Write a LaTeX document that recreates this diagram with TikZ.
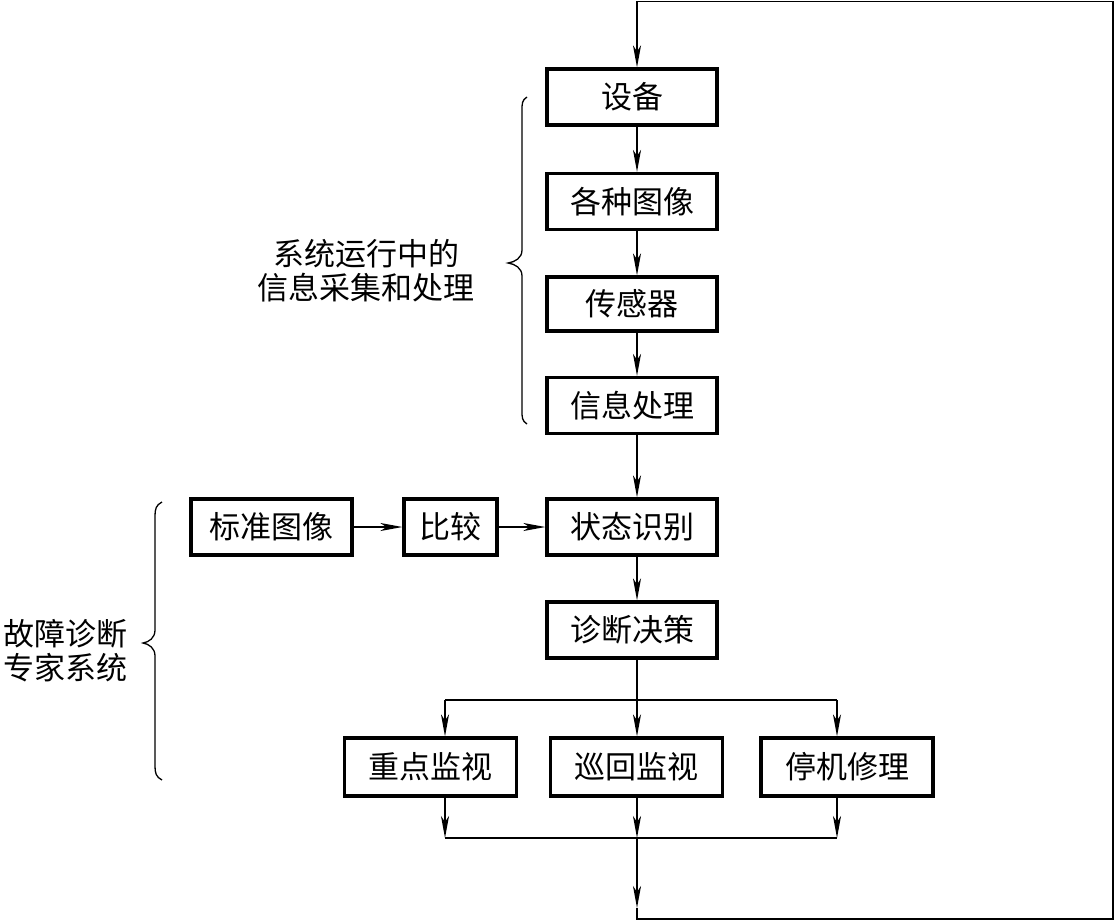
\documentclass[tikz,border=0pt]{standalone}
\usepackage{fontspec}
\setmainfont{Noto Sans CJK SC}
\usetikzlibrary{arrows.meta}
\begin{document}
\begin{tikzpicture}[x=1pt,y=-1pt,
  box/.style={draw, line width=3.2pt, minimum width=170pt, minimum height=56pt, inner sep=0pt, font=\fontsize{31}{31}\selectfont},
  conn/.style={line width=1.7pt},
  arr/.style={conn, -{Stealth[length=22pt,width=8pt,inset=6pt]}},
  lbl/.style={align=center, inner sep=0pt, font=\fontsize{31}{34}\selectfont},
  brace/.style={line width=1.3pt}]
\useasboundingbox (0,0) rectangle (1115,921);
\coordinate (cx) at (637,0);
% main column
\node[box] (dev) at (632,97) {设备};
\node[box] (img) at (632,201.5) {各种图像};
\node[box, minimum height=54pt] (sen) at (632,304) {传感器};
\node[box] (info) at (632,405.5) {信息处理};
\node[box] (state) at (632,527) {状态识别};
\node[box] (diag) at (632,630) {诊断决策};
\node[box, minimum width=161pt] (std) at (271.5,527) {标准图像};
\node[box, minimum width=93pt] (cmp) at (450.5,527) {比较};
\node[box, minimum width=172pt, minimum height=58pt] (m1) at (430.5,767) {重点监视};
\node[box, minimum width=172pt, minimum height=58pt] (m2) at (636.5,767) {巡回监视};
\node[box, minimum width=172pt, minimum height=58pt] (m3) at (847,767) {停机修理};
% labels
\node[lbl] (t1) at (366,271) {系统运行中的\\信息采集和处理};
\node[lbl] (t2) at (65,651) {故障诊断\\专家系统};
% vertical arrows
\draw[arr] (dev.south -| cx) -- (img.north -| cx);
\draw[arr] (img.south -| cx) -- (sen.north -| cx);
\draw[arr] (sen.south -| cx) -- (info.north -| cx);
\draw[arr] (info.south -| cx) -- (state.north -| cx);
\draw[arr] (state.south -| cx) -- (diag.north -| cx);
\draw[arr] (std.east) -- (cmp.west);
\draw[arr] (cmp.east) -- (state.west);
% branch
\coordinate (b0) at (637,700);
\coordinate (bl) at (445,700);
\coordinate (br) at (837,700);
\draw[conn] (diag.south -| cx) -- (b0);
\draw[conn] (bl) -- (br);
\draw[arr] (bl) -- (bl |- m1.north);
\draw[arr] (b0) -- (b0 |- m2.north);
\draw[arr] (br) -- (br |- m3.north);
% join
\coordinate (jl) at (445,838);
\coordinate (j0) at (637,838);
\coordinate (jr) at (837,838);
\draw[arr] (m1.south -| jl) -- (jl);
\draw[arr] (m2.south -| j0) -- (j0);
\draw[arr] (m3.south -| jr) -- (jr);
\draw[conn] (jl) -- (jr);
% feedback
\coordinate (fa) at (637,908);
\coordinate (fb) at (637,919);
\coordinate (fc) at (1113,919);
\coordinate (fd) at (1113,1.5);
\coordinate (fe) at (637,1.5);
\draw[arr] (j0) -- (fa);
\draw[arr] (fa) -- (fb) -- (fc) -- (fd) -- (fe) -- (dev.north -| cx);
% braces
\draw[brace] (527,97) .. controls (522,100) and (522,104) .. (522,110) -- (522,250) .. controls (522,258) and (515,262) .. (508,263) .. controls (515,264) and (522,268) .. (522,276) -- (522,411) .. controls (522,417) and (522,421) .. (527,424);
\draw[brace] (162,502) .. controls (156,505) and (155,509) .. (155,516) -- (155,630) .. controls (155,638) and (149,642) .. (143,643) .. controls (149,644) and (155,648) .. (155,656) -- (155,766) .. controls (155,773) and (156,777) .. (162,780);
\end{tikzpicture}
\end{document}
